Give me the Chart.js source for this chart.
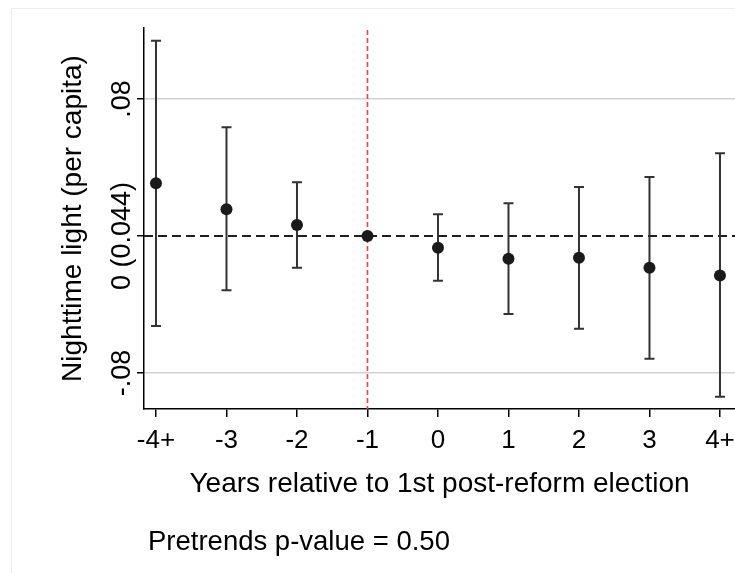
<!DOCTYPE html>
<html>
<head>
<meta charset="utf-8">
<style>
  html, body { margin: 0; padding: 0; background: #fff; }
  canvas { display: block; }
</style>
<script src="https://cdn.jsdelivr.net/npm/chart.js@4.4.0/dist/chart.umd.min.js"></script>
</head>
<body>
<canvas id="c" width="735" height="573"></canvas>
<script>
// Event-study estimates: nighttime light per capita around the 1st post-reform election
const periods = [-4, -3, -2, -1, 0, 1, 2, 3, 4];
const periodLabels = ['-4+', '-3', '-2', '-1', '0', '1', '2', '3', '4+'];
const estimates = [0.0309, 0.0156, 0.0064, 0, -0.0068, -0.0132, -0.0127, -0.0185, -0.0230];
const ciUpper = [0.1140, 0.0635, 0.0314, null, 0.0127, 0.0191, 0.0286, 0.0345, 0.0483];
const ciLower = [-0.0526, -0.0317, -0.0185, null, -0.0261, -0.0455, -0.0541, -0.0716, -0.0938];
const yTickValues = [-0.08, 0, 0.08];
const yTickLabels = ['-.08', '0 (0.044)', '.08'];
const referencePeriod = -1;
const pValueNote = 'Pretrends p-value = 0.50';

const FONT = "'Liberation Sans', Arial, sans-serif";

const decorations = {
  id: 'decorations',
  beforeDraw(chart) {
    const ctx = chart.ctx;
    ctx.save();
    ctx.strokeStyle = '#ececec';
    ctx.lineWidth = 1;
    ctx.strokeRect(11.5, 8.5, 900, 900);
    ctx.restore();
  },
  beforeDatasetsDraw(chart) {
    const { ctx, chartArea: a, scales: { x, y } } = chart;
    ctx.save();
    // zero reference line
    const y0 = y.getPixelForValue(0);
    ctx.strokeStyle = '#1e1e1e';
    ctx.lineWidth = 2;
    ctx.setLineDash([9, 5]);
    ctx.beginPath();
    ctx.moveTo(a.left, y0);
    ctx.lineTo(a.right, y0);
    ctx.stroke();
    // omitted period marker
    const xr = x.getPixelForValue(referencePeriod);
    ctx.strokeStyle = '#ff4040';
    ctx.lineWidth = 1.6;
    ctx.setLineDash([5, 3]);
    ctx.beginPath();
    ctx.moveTo(xr, a.top + 2);
    ctx.lineTo(xr, a.bottom);
    ctx.stroke();
    // confidence intervals with caps
    ctx.setLineDash([]);
    ctx.strokeStyle = '#333333';
    ctx.lineWidth = 2;
    periods.forEach((p, i) => {
      if (ciUpper[i] == null) return;
      const px = x.getPixelForValue(p);
      const hi = y.getPixelForValue(ciUpper[i]);
      const lo = y.getPixelForValue(ciLower[i]);
      ctx.beginPath();
      ctx.moveTo(px, hi); ctx.lineTo(px, lo);
      ctx.moveTo(px - 5, hi); ctx.lineTo(px + 5, hi);
      ctx.moveTo(px - 5, lo); ctx.lineTo(px + 5, lo);
      ctx.stroke();
    });
    ctx.restore();
  },
  afterDraw(chart) {
    const { ctx, scales: { x, y } } = chart;
    ctx.save();
    ctx.fillStyle = '#000';
    // y tick labels, rotated
    ctx.font = '27px ' + FONT;
    ctx.textAlign = 'center';
    ctx.textBaseline = 'alphabetic';
    yTickValues.forEach((v, i) => {
      const py = y.getPixelForValue(v);
      ctx.save();
      ctx.translate(130, py);
      ctx.rotate(-Math.PI / 2);
      ctx.fillText(yTickLabels[i], 0, 0);
      ctx.restore();
    });
    // x tick labels
    ctx.font = '26px ' + FONT;
    periods.forEach((p, i) => {
      ctx.fillText(periodLabels[i], x.getPixelForValue(p), 448);
    });
    // footnote
    ctx.font = '27.5px ' + FONT;
    ctx.textAlign = 'left';
    ctx.fillText(pValueNote, 148, 550);
    ctx.restore();
  }
};

new Chart(document.getElementById('c'), {
  type: 'scatter',
  data: {
    datasets: [{
      data: periods.map((p, i) => ({ x: p, y: estimates[i] })),
      pointRadius: 6,
      pointHoverRadius: 6,
      backgroundColor: '#1a1a1a',
      borderWidth: 0,
      showLine: false
    }]
  },
  options: {
    responsive: false,
    animation: false,
    events: [],
    layout: { autoPadding: false, padding: { top: 28, left: 0, right: 0, bottom: 0 } },
    plugins: { legend: { display: false }, tooltip: { enabled: false } },
    scales: {
      x: {
        type: 'linear',
        min: -4.170,
        max: 4.213,
        afterBuildTicks(s) { s.ticks = periods.map(v => ({ value: v })); },
        afterFit(s) { s.height = 164; s.paddingLeft = 0; s.paddingRight = 0; },
        ticks: { display: false },
        grid: { drawOnChartArea: false, color: '#000', tickColor: '#000', tickLength: 8, lineWidth: 1.5 },
        border: { color: '#000', width: 1.5 },
        title: {
          display: true,
          text: 'Years relative to 1st post-reform election',
          color: '#000',
          font: { family: FONT, size: 28 },
          padding: { top: 0, bottom: 72 }
        }
      },
      y: {
        type: 'linear',
        min: -0.101,
        max: 0.1215,
        afterBuildTicks(s) { s.ticks = yTickValues.map(v => ({ value: v })); },
        afterFit(s) { s.width = 144; s.paddingTop = 0; s.paddingBottom = 0; },
        ticks: { display: false },
        grid: {
          color: (c) => (c.tick && c.tick.value === 0) ? 'rgba(0,0,0,0)' : '#d2d2d2',
          tickColor: '#000',
          tickLength: 7,
          lineWidth: 1.5
        },
        border: { color: '#000', width: 1.5 },
        title: {
          display: true,
          text: 'Nighttime light (per capita)',
          color: '#000',
          font: { family: FONT, size: 28 },
          padding: { top: 56, bottom: 0 }
        }
      }
    }
  },
  plugins: [decorations]
});
</script>
</body>
</html>
